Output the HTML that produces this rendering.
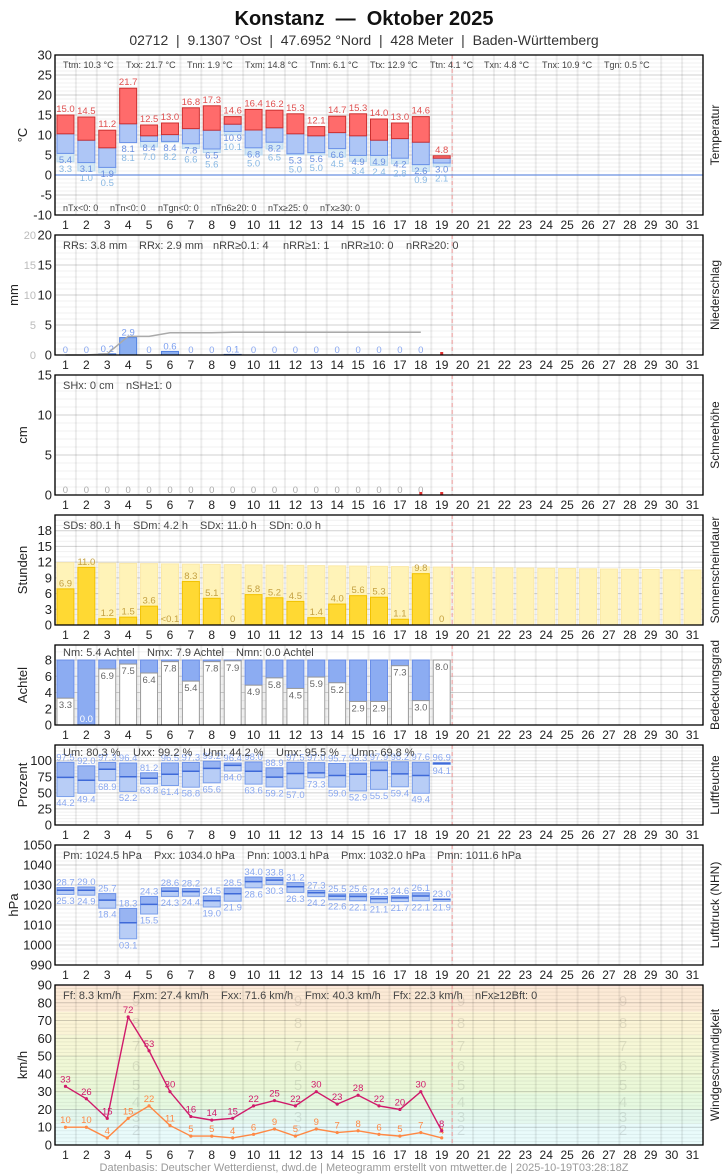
<!DOCTYPE html>
<html><head><meta charset="utf-8"><style>
html,body{margin:0;padding:0;background:#fff;}
svg{display:block;font-family:"Liberation Sans",Arial,sans-serif;}
</style></head><body>
<svg id="c" width="728" height="1175" viewBox="0 0 728 1175" xmlns="http://www.w3.org/2000/svg">
<text x="364" y="25" font-size="20" font-weight="bold" text-anchor="middle" fill="#111" xml:space="preserve">Konstanz  —  Oktober 2025</text>
<text x="364" y="45" font-size="14" text-anchor="middle" fill="#333" xml:space="preserve">02712  |  9.1307 °Ost  |  47.6952 °Nord  |  428 Meter  |  Baden-Württemberg</text>
<text x="364" y="1171" font-size="11" text-anchor="middle" fill="#999">Datenbasis: Deutscher Wetterdienst, dwd.de | Meteogramm erstellt von mtwetter.de | 2025-10-19T03:28:18Z</text>
<g id="g"></g>
</svg>
<script>
let s='';
const X0=55,X1=703,W=(X1-X0)/31;
const cx=d=>X0+(d-0.5)*W;
function T(x,y,t,o){o=o||{};s+=`<text x="${x}" y="${y}" font-size="${o.fs||9}" fill="${o.c||'#444'}" text-anchor="${o.a||'start'}"${o.tr?` transform="${o.tr}"`:''}>${t}</text>`;}
function R(x,y,w,h,f,st,sw){s+=`<rect x="${x}" y="${y}" width="${w}" height="${Math.max(h,0)}" fill="${f}" stroke="${st||'none'}" stroke-width="${sw||1}"/>`;}
function L(x1,y1,x2,y2,c,w,da){s+=`<line x1="${x1}" y1="${y1}" x2="${x2}" y2="${y2}" stroke="${c}" stroke-width="${w||1}"${da?` stroke-dasharray="${da}"`:''}/>`;}
function P(pts,c,w){s+=`<polyline points="${pts.map(p=>p.join(',')).join(' ')}" fill="none" stroke="${c}" stroke-width="${w}"/>`;}
function panel(p){
 const Y=v=>p.bot-(v-p.vmin)*(p.bot-p.top)/(p.vmax-p.vmin);
 R(X0,p.top,X1-X0,p.bot-p.top,'#fff');
 if(p.bg)p.bg(Y);
 for(let v=p.vmin;v<=p.vmax+1e-6;v+=p.minor)L(X0,Y(v),X1,Y(v),'rgba(0,0,0,0.06)',1);
 for(let d=0;d<=31;d++)L(X0+d*W,p.top,X0+d*W,p.bot,'rgba(0,0,0,0.07)',2);
 p.majors.forEach(v=>{L(X0,Y(v),X1,Y(v),'rgba(0,0,0,0.13)',1);T(52,Y(v)+4.5,v,{fs:13,c:'#222',a:'end'});});
 for(let d=1;d<=31;d++)T(cx(d),p.bot+14,d,{fs:12,c:'#222',a:'middle'});
 L(X0+19*W,p.top,X0+19*W,p.bot,'#f4a0a0',1,'4,3');
 p.Y=Y;return Y;
}
function fin(p){
 R(X0,p.top,X1-X0,p.bot-p.top,'none','#000',1.3);
 const m=(p.top+p.bot)/2;
 T(p.tx||27,m,p.yt,{fs:13,c:'#222',a:'middle',tr:`rotate(-90 ${p.tx||27} ${m})`});
 T(719,m,p.rt,{fs:12,c:'#222',a:'middle',tr:`rotate(-90 719 ${m})`});
}
function stats(arr,y){arr.forEach(a=>T(a[1],y,a[0],{fs:a[2]||11,c:'#444'}));}

// TEMPERATURE
let p={top:55,bot:215,vmin:-10,vmax:30,minor:1,majors:[30,25,20,15,10,5,0,-5,-10],yt:'°C',rt:'Temperatur'};
let Y=panel(p);
L(X0,Y(0),X1,Y(0),'#6a90e0',1.2);
const Tx=[15.0,14.5,11.2,21.7,12.5,13.0,16.8,17.3,14.6,16.4,16.2,15.3,12.1,14.7,15.3,14.0,13.0,14.6,4.8];
const Tn=[5.4,3.1,1.9,8.1,8.4,8.4,7.8,6.5,10.9,6.8,8.2,5.3,5.6,6.6,4.9,4.9,4.2,2.6,3.0];
const Tg=[3.3,1.0,0.5,8.1,7.0,8.2,6.6,5.6,10.1,5.0,6.5,5.0,5.0,4.5,3.4,2.4,2.8,0.9,2.1];
const Tm=[10.3,8.7,6.8,12.8,9.8,10.1,11.6,11.2,12.7,11.25,11.8,10.3,9.8,10.6,9.8,8.7,9.1,8.2,4.2];
Tx.forEach((v,i)=>{const x=cx(i+1)-8.5;
 R(x,Y(Tn[i]),17,Y(Tg[i])-Y(Tn[i]),'#d4e8f6','#b8d8f0');
 R(x,Y(Tm[i]),17,Y(Tn[i])-Y(Tm[i]),'#aec6f6','#6a90e8');
 R(x,Y(v),17,Y(Tm[i])-Y(v),'#ff6b6b','#cc3030');
 T(cx(i+1),Y(v)-3,v.toFixed(1),{c:'#e05050',a:'middle',fs:9.5});
 const ln=Y(Tn[i])+9.5;T(cx(i+1),ln,Tn[i].toFixed(1),{c:'#6a8fe0',a:'middle',fs:9.5});
 T(cx(i+1),Math.max(Y(Tg[i])+9.5,ln+9),Tg[i].toFixed(1),{c:'#88b8e4',a:'middle',fs:9.5});
});
stats([['Ttm: 10.3 °C',63,9],['Txx: 21.7 °C',126,9],['Tnn: 1.9 °C',187,9],['Txm: 14.8 °C',245,9],['Tnm: 6.1 °C',310,9],['Ttx: 12.9 °C',370,9],['Ttn: 4.1 °C',430,9],['Txn: 4.8 °C',484,9],['Tnx: 10.9 °C',542,9],['Tgn: 0.5 °C',604,9]],68);
stats([['nTx&lt;0: 0',63,9],['nTn&lt;0: 0',110,9],['nTgn&lt;0: 0',158,9],['nTn6≥20: 0',211,9],['nTx≥25: 0',268,9],['nTx≥30: 0',320,9]],211);
fin(p);

// PRECIP
p={top:235,bot:355,vmin:0,vmax:20,minor:1,majors:[20,15,10,5,0],yt:'mm',rt:'Niederschlag',tx:18};
Y=panel(p);
[20,15,10,5,0].forEach(v=>T(36,Y(v)+4,v,{fs:11,c:'#bbb',a:'end'}));
const RR=[0,0,0.2,2.9,0,0.6,0,0,0.1,0,0,0,0,0,0,0,0,0];
let cum=0,pts=[];
RR.forEach((v,i)=>{cum+=v;pts.push([cx(i+1),Y(cum)]);
 if(v>0){R(cx(i+1)-8.5,Y(v),17,355-Y(v),'#8aaef0','#5080e0');T(cx(i+1),Y(v)-2,v,{c:'#7a9ef0',a:'middle',fs:9.5});}
 else T(cx(i+1),353,'0',{c:'#8aa8f0',a:'middle',fs:9.5});});
P(pts,'#aaa',1.5);
R(cx(19)-1.5,352,3,3,'#e03030');
stats([['RRs: 3.8 mm',63],['RRx: 2.9 mm',139],['nRR≥0.1: 4',213],['nRR≥1: 1',283],['nRR≥10: 0',341],['nRR≥20: 0',406]],249);
fin(p);

// SNOW
p={top:375,bot:495,vmin:0,vmax:15,minor:1,majors:[15,10,5,0],yt:'cm',rt:'Schneehöhe'};
Y=panel(p);
for(let d=1;d<=18;d++)T(cx(d),493,'0',{c:'#aaa',a:'middle',fs:9.5});
R(cx(18)-1.5,492,3,3,'#e03030');R(cx(19)-1.5,492,3,3,'#e03030');
stats([['SHx: 0 cm',63],['nSH≥1: 0',126]],389);
fin(p);

// SUNSHINE
p={top:515,bot:625,vmin:0,vmax:21,minor:1,majors:[18,15,12,9,6,3,0],yt:'Stunden',rt:'Sonnenscheindauer'};
Y=panel(p);
for(let d=1;d<=31;d++){const v=11.9-(d-1)*1.4/30;R(cx(d)-8.5,Y(v),17,625-Y(v),'#fff3b8','#fbe9a8');}
const SD=[6.9,11.0,1.2,1.5,3.6,0.05,8.3,5.1,0,5.8,5.2,4.5,1.4,4.0,5.6,5.3,1.1,9.8,0];
const SL=['6.9','11.0','1.2','1.5','3.6','&lt;0.1','8.3','5.1','0','5.8','5.2','4.5','1.4','4.0','5.6','5.3','1.1','9.8','0'];
SD.forEach((v,i)=>{if(v>0.06)R(cx(i+1)-8.5,Y(v),17,625-Y(v),'#ffd933','#f2c200');
 T(cx(i+1),v>0.06?Y(v)-2.5:622,SL[i],{c:'#c4a040',a:'middle',fs:9.5});});
stats([['SDs: 80.1 h',63],['SDm: 4.2 h',133],['SDx: 11.0 h',200],['SDn: 0.0 h',269]],529);
fin(p);

// CLOUD
p={top:645,bot:725,vmin:0,vmax:9.85,minor:1,majors:[8,6,4,2,0],yt:'Achtel',rt:'Bedeckungsgrad'};
Y=panel(p);
const N=[3.3,0.0,6.9,7.5,6.4,7.8,5.4,7.8,7.9,4.9,5.8,4.5,5.9,5.2,2.9,2.9,7.3,3.0,8.0];
N.forEach((v,i)=>{const x=cx(i+1)-8.5;
 if(v<8)R(x,Y(8),17,Y(v)-Y(8),'#8cacf2','#6a8ee8');
 if(v>0)R(x,Y(v),17,725-Y(v),'#fff','#999');
 if(v>0)T(cx(i+1),Y(v)+10,v.toFixed(1),{c:'#666',a:'middle',fs:9.5});
 else T(cx(i+1),722,'0.0',{c:'#fff',a:'middle',fs:9.5});});
stats([['Nm: 5.4 Achtel',63],['Nmx: 7.9 Achtel',147],['Nmn: 0.0 Achtel',236]],656);
fin(p);

// HUMIDITY
p={top:745,bot:825,vmin:0,vmax:124.4,minor:5,majors:[100,75,50,25,0],yt:'Prozent',rt:'Luftfeuchte'};
Y=panel(p);
const Ux=[97.5,92.0,97.3,96.4,81.2,96.5,97.3,99.2,96.4,98.0,88.9,97.5,97.0,95.7,96.3,97.9,98.2,97.6,96.9];
const Un=[44.2,49.4,68.9,52.2,63.8,61.4,58.8,65.6,84.0,63.6,59.2,57.0,73.3,59.0,52.9,55.5,59.4,49.4,94.1];
const Um=[74,69.5,86.6,75,72.6,79,83.5,88,92.8,83.5,74.5,80,81,77,79,85,79.5,77,96];
Ux.forEach((v,i)=>{const x=cx(i+1)-8.5;
 R(x,Y(Um[i]),17,Y(Un[i])-Y(Um[i]),'#b8cdf6','#7a9eea');
 R(x,Y(v),17,Y(Um[i])-Y(v),'#98b4f2','#6a90e8');
 L(x,Y(Um[i]),x+17,Y(Um[i]),'#3f6ad8',1.5);
 T(cx(i+1),Y(v)-2,v.toFixed(1),{c:'#8aa8f0',a:'middle',fs:9.5});
 T(cx(i+1),Y(Un[i])+9.5,Un[i].toFixed(1),{c:'#8aa8f0',a:'middle',fs:9.5});});
stats([['Um: 80.3 %',63],['Uxx: 99.2 %',133],['Unn: 44.2 %',203],['Umx: 95.5 %',276],['Umn: 69.8 %',351]],756);
fin(p);

// PRESSURE
p={top:845,bot:965,vmin:990,vmax:1050,minor:2,majors:[1050,1040,1030,1020,1010,1000,990],yt:'hPa',rt:'Luftdruck (NHN)',tx:18};
Y=panel(p);
const Px=[28.7,29.0,25.7,18.3,24.3,28.6,28.2,24.5,28.5,34.0,33.8,31.2,27.3,25.5,25.6,24.3,24.6,26.1,23.0];
const Pn=[25.3,24.9,18.4,3.1,15.5,24.3,24.4,19.0,21.9,28.6,30.3,26.3,24.2,22.6,22.1,21.1,21.7,22.1,21.9];
const PnL=['25.3','24.9','18.4','03.1','15.5','24.3','24.4','19.0','21.9','28.6','30.3','26.3','24.2','22.6','22.1','21.1','21.7','22.1','21.9'];
Px.forEach((v,i)=>{const x=cx(i+1)-8.5,a=1000+v,b=1000+Pn[i],m=(a+b)/2+0.4;
 R(x,Y(m),17,Y(b)-Y(m),'#b8cdf6','#7a9eea');
 R(x,Y(a),17,Y(m)-Y(a),'#98b4f2','#6a90e8');
 L(x,Y(m),x+17,Y(m),'#3f6ad8',1.5);
 T(cx(i+1),Y(a)-2,v.toFixed(1),{c:'#8aa8f0',a:'middle',fs:9.5});
 T(cx(i+1),Y(b)+9.5,PnL[i],{c:'#8aa8f0',a:'middle',fs:9.5});});
stats([['Pm: 1024.5 hPa',63],['Pxx: 1034.0 hPa',154],['Pnn: 1003.1 hPa',247],['Pmx: 1032.0 hPa',341],['Pmn: 1011.6 hPa',437]],859);
fin(p);

// WIND
p={top:985,bot:1145,vmin:0,vmax:90,minor:2,majors:[90,80,70,60,50,40,30,20,10,0],yt:'km/h',rt:'Windgeschwindigkeit',
 bg:Y=>{const b=[[0,12,'#e9fbfb'],[12,20,'#e4f8ee'],[20,29,'#e6f9e0'],[29,39,'#ebf8d8'],[39,50,'#f0f8d6'],[50,62,'#f6f7d6'],[62,75,'#fbf4d6'],[75,89,'#fcead6'],[89,90,'#fce2d6']];
 b.forEach(q=>R(X0,Y(q[1]),X1-X0,Y(q[0])-Y(q[1]),q[2]));
 const nl=[[2,1130],[3,1117],[4,1102],[5,1085],[6,1066],[7,1046],[8,1023],[9,1001]];
 [136,298,461,623].forEach(x=>nl.forEach(n=>T(x,n[1]+5,n[0],{fs:15,c:'rgba(0,0,0,0.09)',a:'middle'})));}};
Y=panel(p);
const Fx=[33,26,15,72,53,30,16,14,15,22,25,22,30,23,28,22,20,30,8];
const Ff=[10,10,4,15,22,11,5,5,4,6,9,5,9,7,8,6,5,7,4];
[[Ff,'#ff8844'],[Fx,'#d01a6a']].forEach(q=>{P(q[0].map((v,i)=>[cx(i+1),Y(v)]),q[1],1.4);
 q[0].forEach((v,i)=>{s+=`<circle cx="${cx(i+1)}" cy="${Y(v)}" r="1.6" fill="${q[1]}"/>`;T(cx(i+1),Y(v)-4,v,{c:q[1],a:'middle',fs:9.5});});});
stats([['Ff: 8.3 km/h',63],['Fxm: 27.4 km/h',133],['Fxx: 71.6 km/h',221],['Fmx: 40.3 km/h',305],['Ffx: 22.3 km/h',393],['nFx≥12Bft: 0',475]],999);
fin(p);

document.getElementById('g').innerHTML=s;
</script>
</body></html>
